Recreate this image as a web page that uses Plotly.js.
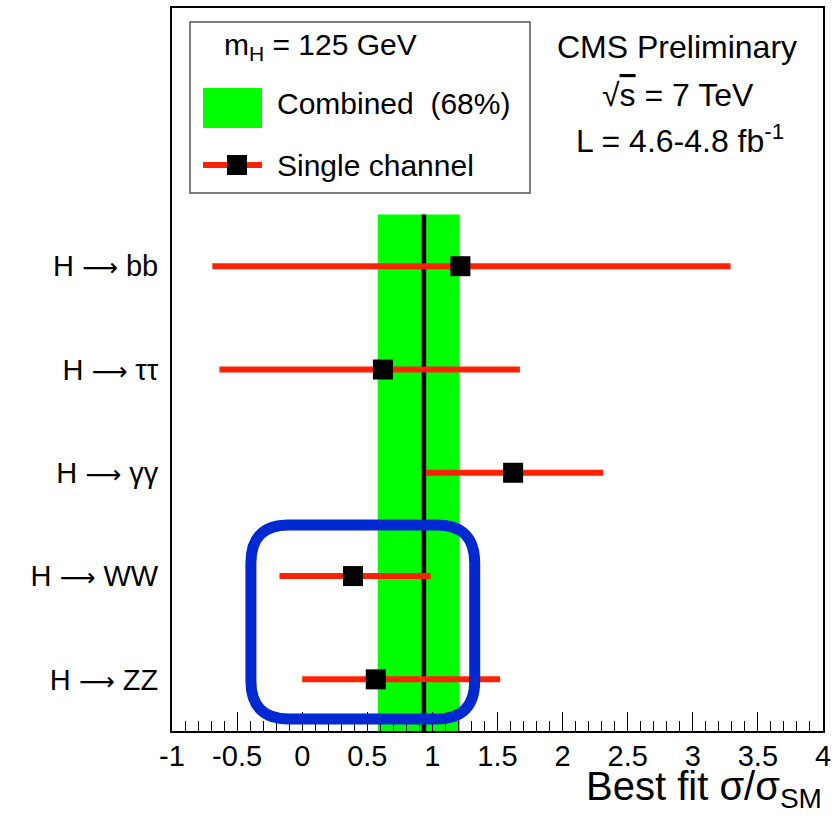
<!DOCTYPE html>
<html>
<head>
<meta charset="utf-8">
<script src="https://cdn.plot.ly/plotly-3.0.1.min.js"></script>
<style>html,body{margin:0;padding:0;background:#fff;}#chart{width:838px;height:819px;}</style>
</head>
<body>
<div id="chart"></div>
<script>
// ---- data ----
const ARROW = "<span style=\"font-family:DejaVu Sans;font-size:25px\">\u27f6</span>";
const channels = ["H " + ARROW + " bb", "H " + ARROW + " \u03c4\u03c4", "H " + ARROW + " \u03b3\u03b3", "H " + ARROW + " WW", "H " + ARROW + " ZZ"];
const bestFit  = [1.215, 0.62, 1.62, 0.39, 0.565];
const errLow   = [-0.69, -0.636, 0.95, -0.175, 0.0];
const errHigh  = [3.29, 1.672, 2.312, 0.987, 1.52];
const combinedBest = 0.935;
const combinedLow  = 0.58;
const combinedHigh = 1.21;
const xTickVals  = [-1, -0.5, 0, 0.5, 1, 1.5, 2, 2.5, 3, 3.5, 4];
const xTickText  = ["-1", "-0.5", "0", "0.5", "1", "1.5", "2", "2.5", "3", "3.5", "4"];

// ---- geometry helpers (plot area in pixels) ----
const W = 838, H = 819;
const L = 172, R = 823, T = 8, B = 731;
const px = x => (x - L) / (R - L);
const py = y => (B - y) / (B - T);

const nCh = channels.length;
const yPos = channels.map((_, i) => nCh - 1 - i);
const bandY0 = -0.5, bandY1 = nCh - 0.5;

const FONT = "Liberation Sans, Arial, Helvetica, sans-serif";
const RED = "#ff2200", GREEN = "#00ff00", BLUE = "#0029d2";

const traces = [
  {
    type: "scatter", mode: "lines", hoverinfo: "skip", showlegend: false,
    x: [combinedLow, combinedHigh, combinedHigh, combinedLow, combinedLow],
    y: [bandY0, bandY0, bandY1, bandY1, bandY0],
    fill: "toself", fillcolor: GREEN, line: {width: 0, color: GREEN}
  },
  {
    type: "scatter", mode: "lines", hoverinfo: "skip", showlegend: false,
    x: [combinedBest, combinedBest], y: [bandY0, bandY1],
    line: {color: "#000", width: 4.5}
  },
  {
    type: "scatter", mode: "markers", showlegend: false,
    x: bestFit, y: yPos,
    marker: {symbol: "square", size: 20, color: "#000", line: {width: 0}},
    error_x: {
      type: "data", symmetric: false,
      array: bestFit.map((b, i) => errHigh[i] - b),
      arrayminus: bestFit.map((b, i) => b - errLow[i]),
      color: RED, thickness: 6, width: 0
    }
  }
];

// rounded highlight box (data coords)
const bx0 = -0.394, bx1 = 1.325, by0 = -0.383, by1 = 1.495, rx = 0.29, ry = 0.37;
const boxPath = `M ${bx0+rx},${by0} L ${bx1-rx},${by0} Q ${bx1},${by0} ${bx1},${by0+ry} L ${bx1},${by1-ry} Q ${bx1},${by1} ${bx1-rx},${by1} L ${bx0+rx},${by1} Q ${bx0},${by1} ${bx0},${by1-ry} L ${bx0},${by0+ry} Q ${bx0},${by0} ${bx0+rx},${by0} Z`;

const shapes = [
  {type: "path", xref: "x", yref: "y", path: boxPath, line: {color: BLUE, width: 11}, layer: "above"},
  // legend frame
  {type: "rect", xref: "paper", yref: "paper", x0: px(190), x1: px(530), y0: py(193), y1: py(22),
   line: {color: "#555", width: 1.5}, fillcolor: "#fff", layer: "above"},
  // legend green box
  {type: "rect", xref: "paper", yref: "paper", x0: px(203), x1: px(262), y0: py(128), y1: py(88),
   line: {width: 0}, fillcolor: GREEN, layer: "above"},
  // legend red line
  {type: "line", xref: "paper", yref: "paper", x0: px(203), x1: px(262), y0: py(165), y1: py(165),
   line: {color: RED, width: 6}, layer: "above"},
  // legend black square
  {type: "rect", xref: "paper", yref: "paper", x0: px(227), x1: px(247), y0: py(175), y1: py(155),
   line: {width: 0}, fillcolor: "#000", layer: "above"}
];

const ann = (text, x, y, xanchor, size) => ({
  text, xref: "paper", yref: "paper", x: px(x), y: py(y), xanchor, yanchor: "middle",
  showarrow: false, font: {family: FONT, size, color: "#000"}
});

const annotations = [
  ann("m<sub>H</sub> = 125 GeV", 222, 46, "left", 30),
  ann("Combined  (68%)", 275, 104, "left", 30),
  ann("Single channel", 275, 165, "left", 30),
  ann("CMS Preliminary", 677, 47, "center", 32),
  ann("\u221A<span style=\"text-decoration:overline\">s</span> = 7 TeV", 678, 95, "center", 32),
  ann("L = 4.6-4.8 fb<sup>-1</sup>", 680, 139, "center", 32),
  ann("Best fit \u03c3/\u03c3<sub>SM</sub>", 824, 789, "right", 40)
];

const layout = {
  width: W, height: H,
  margin: {l: L, r: W - R, t: T, b: H - B, pad: 0},
  paper_bgcolor: "#fff", plot_bgcolor: "#fff",
  showlegend: false,
  xaxis: {
    range: [-1, 4], showgrid: false, zeroline: false,
    tickmode: "array", tickvals: xTickVals, ticktext: xTickText,
    ticks: "inside", ticklen: 19, tickwidth: 1, tickcolor: "#000",
    minor: {tickmode: "linear", tick0: -1, dtick: 0.1, ticks: "inside", ticklen: 10, tickwidth: 1, tickcolor: "#000", showgrid: false},
    showline: true, linecolor: "#000", linewidth: 2, mirror: true,
    ticklabelstandoff: -2,
    tickfont: {family: FONT, size: 29, color: "#000"}
  },
  yaxis: {
    range: [-0.5, 6.5], showgrid: false, zeroline: false,
    tickmode: "array", tickvals: yPos, ticktext: channels,
    ticks: "", showline: true, linecolor: "#000", linewidth: 2, mirror: true,
    ticklabelstandoff: 6,
    tickfont: {family: FONT, size: 29, color: "#000"}
  },
  shapes, annotations
};

Plotly.newPlot("chart", traces, layout, {displayModeBar: false, staticPlot: true});
</script>
</body>
</html>
